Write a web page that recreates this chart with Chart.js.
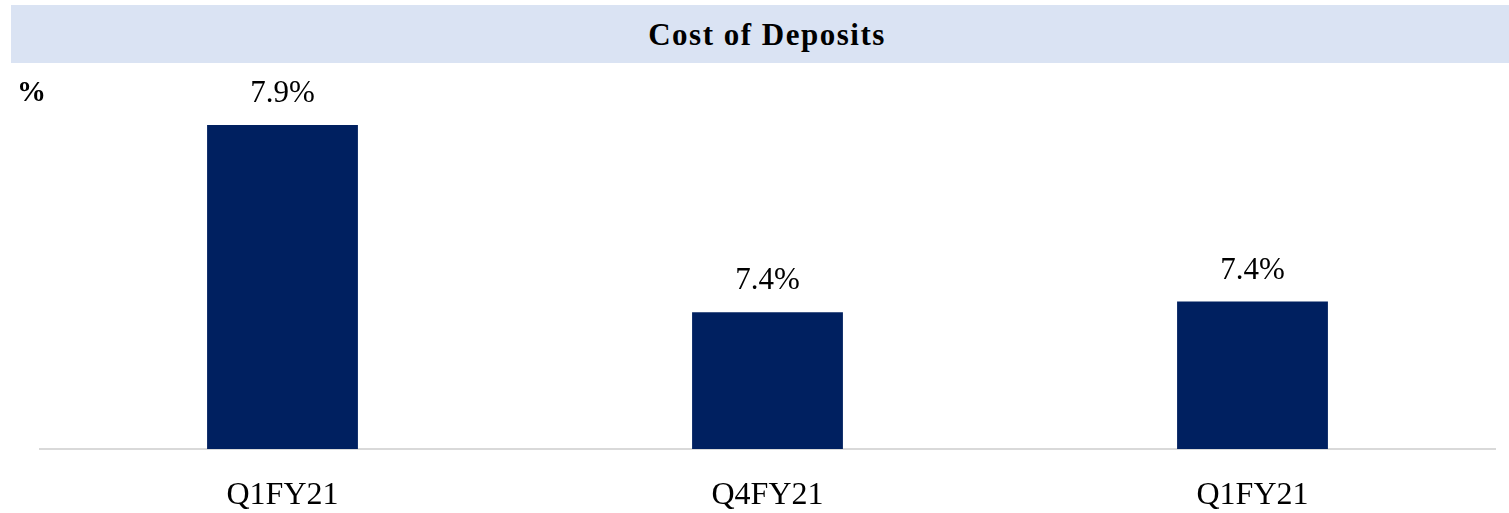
<!DOCTYPE html>
<html>
<head>
<meta charset="utf-8">
<script src="https://cdn.jsdelivr.net/npm/chart.js@4"></script>
<style>
  html,body{margin:0;padding:0;background:#fff;}
  #wrap{position:relative;width:1509px;height:513px;overflow:hidden;}
  #band{position:absolute;left:11px;top:5px;width:1498px;height:58px;background:#DAE3F3;z-index:2;}
  #band span{position:absolute;left:756px;top:30px;transform:translate(-50%,-50%);font:bold 31px "Liberation Serif",serif;letter-spacing:1.5px;color:#000;white-space:nowrap;}
  #unit{position:absolute;left:17px;top:75px;font:bold 29px "Liberation Serif",serif;color:#000;z-index:2;}
  #c{position:absolute;left:0;top:0;}
</style>
</head>
<body>
<div id="wrap">
  <div id="band"><span>Cost of Deposits</span></div>
  <div id="unit">%</div>
  <canvas id="c" width="1509" height="513"></canvas>
</div>
<script>
const quarters=['Q1FY21','Q4FY21','Q1FY21'];
const costPct=[7.9,7.38,7.41];
const yMin=7.0, yMax=8.0;

const barLabels={
  id:'barLabels',
  afterDatasetsDraw(chart){
    const ctx=chart.ctx;
    ctx.save();
    ctx.font='31px "Liberation Serif", serif';
    ctx.fillStyle='#000';
    ctx.textAlign='center';
    ctx.textBaseline='middle';
    chart.getDatasetMeta(0).data.forEach((bar,i)=>{
      ctx.fillText(costPct[i].toFixed(1)+'%',bar.x,bar.y-31);
    });
    ctx.restore();
  }
};

new Chart(document.getElementById('c').getContext('2d'),{
  type:'bar',
  data:{labels:quarters,datasets:[{data:costPct,backgroundColor:'#002060',barPercentage:0.311,categoryPercentage:1}]},
  options:{
    responsive:false,
    animation:false,
    layout:{padding:{left:40,right:14,top:89,bottom:0}},
    plugins:{legend:{display:false},tooltip:{enabled:false}},
    scales:{
      x:{
        grid:{display:false,drawTicks:false},
        border:{display:true,color:'#D9D9D9',width:2},
        ticks:{color:'#000',padding:27,maxRotation:0,font:{family:'"Liberation Serif", serif',size:32}},
        afterFit(scale){scale.height=64;}
      },
      y:{display:false,min:yMin,max:yMax}
    }
  },
  plugins:[barLabels]
});
</script>
</body>
</html>
